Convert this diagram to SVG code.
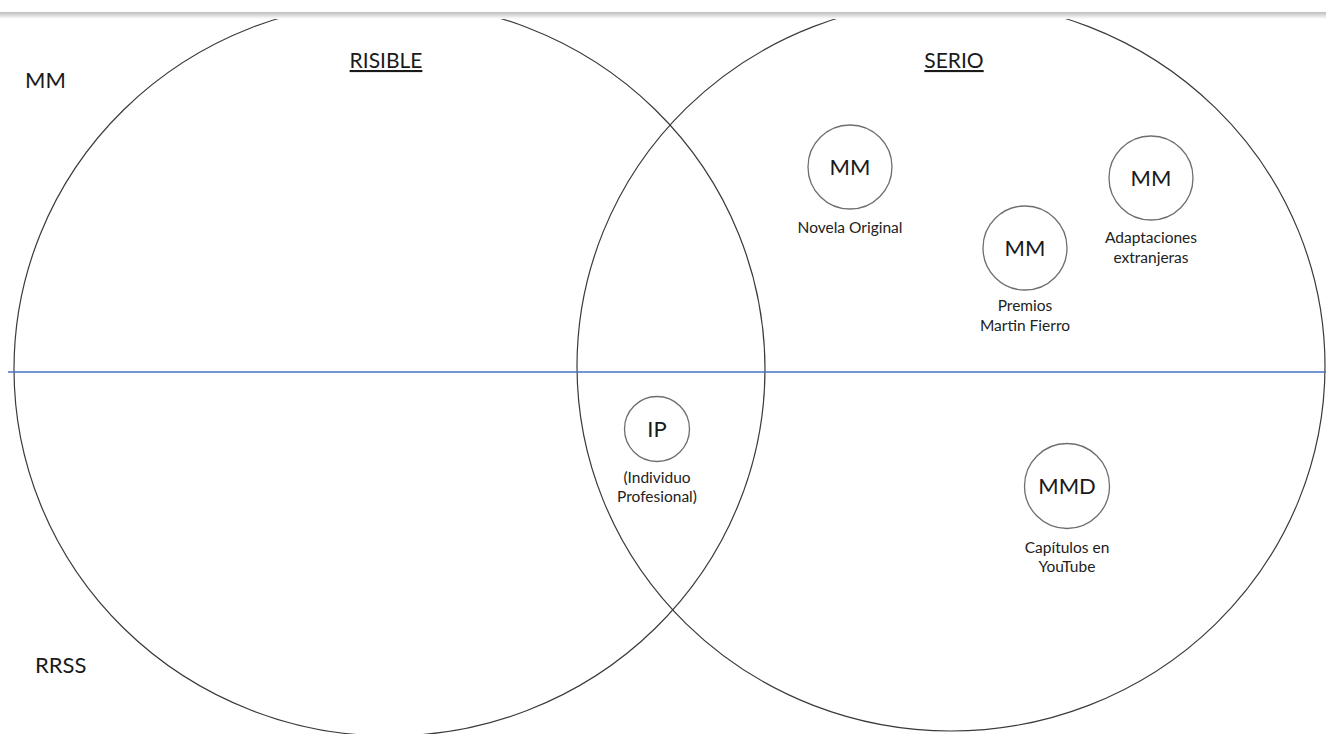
<svg xmlns="http://www.w3.org/2000/svg" width="1326" height="734" viewBox="0 0 1326 734">
<style>
.big{fill:none;stroke:#3a3a3a;stroke-width:1.2}
.node{fill:#fff;stroke:#6e6e6e;stroke-width:1.3}
.t{font-family:Lato,"Liberation Sans",sans-serif;fill:#1a1a1a}
.lg{font-size:22px}
.hd{font-size:21px;text-decoration:underline}
.sm{font-size:15.5px;fill:#222}
</style>
<defs>
<linearGradient id="sh" x1="0" y1="0" x2="0" y2="1">
<stop offset="0" stop-color="#bdbdbd"/>
<stop offset="1" stop-color="#ffffff"/>
</linearGradient>
</defs>
<rect width="1326" height="734" fill="#fff"/>
<g id="sets">
<ellipse id="risible" class="big" cx="389.5" cy="369" rx="375.5" ry="367"/>
<ellipse id="serio" class="big" cx="951" cy="366" rx="374" ry="365"/>
</g>
<rect x="0" y="0" width="1326" height="12" fill="#fff"/>
<rect x="0" y="12" width="1326" height="7" fill="url(#sh)"/>
<g id="axis">
<line x1="8" y1="372" x2="1326" y2="372" stroke="#4472c4" stroke-width="1.4"/>
</g>
<g id="connectors"></g>
<g id="labels">
<text class="t lg" x="25" y="88">MM</text>
<text class="t lg" x="35" y="673">RRSS</text>
<text class="t hd" x="386" y="68" text-anchor="middle">RISIBLE</text>
<text class="t hd" x="954" y="68" text-anchor="middle">SERIO</text>
</g>
<g id="node-novela">
<circle class="node" cx="850" cy="167" r="42"/>
<text class="t lg" x="850" y="175" text-anchor="middle">MM</text>
<text class="t sm" x="850" y="233" text-anchor="middle">Novela Original</text>
</g>
<g id="node-premios">
<circle class="node" cx="1025" cy="248" r="42"/>
<text class="t lg" x="1025" y="256" text-anchor="middle">MM</text>
<text class="t sm" x="1025" y="311" text-anchor="middle">Premios</text>
<text class="t sm" x="1025" y="331" text-anchor="middle">Martin Fierro</text>
</g>
<g id="node-adaptaciones">
<circle class="node" cx="1151" cy="178" r="42"/>
<text class="t lg" x="1151" y="186" text-anchor="middle">MM</text>
<text class="t sm" x="1151" y="243" text-anchor="middle">Adaptaciones</text>
<text class="t sm" x="1151" y="263" text-anchor="middle">extranjeras</text>
</g>
<g id="node-ip">
<circle class="node" cx="657" cy="429" r="32.5"/>
<text class="t lg" x="657" y="437" text-anchor="middle">IP</text>
<text class="t sm" x="657" y="483" text-anchor="middle">(Individuo</text>
<text class="t sm" x="657" y="502" text-anchor="middle">Profesional)</text>
</g>
<g id="node-mmd">
<circle class="node" cx="1067" cy="486" r="42.5"/>
<text class="t lg" x="1067" y="494" text-anchor="middle">MMD</text>
<text class="t sm" x="1067" y="553" text-anchor="middle">Capítulos en</text>
<text class="t sm" x="1067" y="572" text-anchor="middle">YouTube</text>
</g>
</svg>
